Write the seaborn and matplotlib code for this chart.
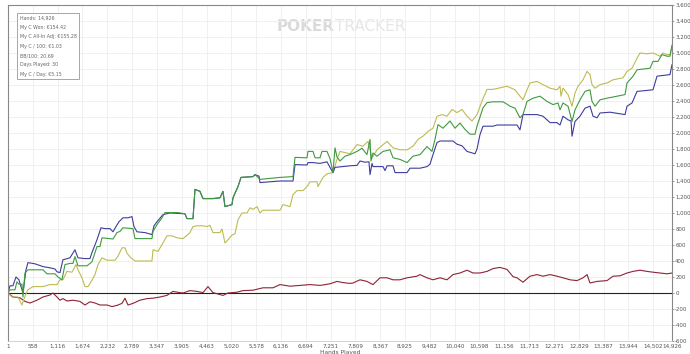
import pandas as pd
import matplotlib.pyplot as plt
import seaborn as sns

# ---- data (hands played vs. winnings) ----
blue_hands = [1, 45, 112, 180, 247, 315, 337, 405, 450, 607, 787, 944, 1057, 1102, 1169, 1236,
              1394, 1506, 1574, 1731, 1843, 1888, 2001, 2091, 2181, 2293, 2361, 2428, 2495, 2585,
              2698, 2788, 2832, 2900, 3080, 3237, 3282, 3350, 3484, 3642, 3821, 3979, 4024, 4159,
              4204, 4316, 4384, 4608, 4766, 4833, 4878, 5036, 5058, 5171, 5238, 5508, 5553, 5643,
              5665, 6115, 6407, 6452, 6722, 6744, 6857, 7014, 7171, 7239, 7306, 7351, 7688, 7846,
              7913, 8025, 8115, 8138, 8183, 8205, 8430, 8475, 8520, 8655, 8700, 8970, 9037, 9262,
              9419, 9486, 9554, 9644, 9711, 10003, 10093, 10206, 10318, 10498, 10543, 10610, 10678,
              10903, 10992, 11442, 11509, 11577, 11892, 12026, 12184, 12341, 12409, 12476, 12589,
              12656, 12679, 12746, 12858, 12971, 13083, 13151, 13241, 13308, 13533, 13870, 13915,
              14027, 14140, 14499, 14589, 14881, 14926]
blue_won = [0, 90, 90, 200, 165, 40, 0, 290, 380, 365, 330, 315, 300, 265, 255, 415,
            440, 540, 440, 430, 430, 505, 665, 815, 805, 805, 765, 830, 890, 940,
            940, 955, 830, 765, 755, 730, 840, 890, 980, 1000, 995, 990, 930, 930,
            1295, 1270, 1180, 1180, 1190, 1270, 1080, 1105, 1190, 1330, 1445, 1455, 1480, 1460,
            1380, 1400, 1400, 1605, 1600, 1630, 1630, 1620, 1640, 1570, 1505, 1570, 1590, 1595,
            1650, 1635, 1640, 1480, 1620, 1580, 1580, 1530, 1590, 1590, 1505, 1505, 1560, 1560,
            1580, 1610, 1730, 1880, 1900, 1900, 1860, 1840, 1770, 1740, 1800, 1980, 2085,
            2085, 2100, 2100, 2040, 2230, 2230, 2210, 2130, 2130, 2100, 2210, 2165,
            2150, 1960, 2145, 2210, 2310, 2335, 2210, 2190, 2250, 2260, 2230, 2335,
            2375, 2520, 2540, 2710, 2730, 2855]

green_hands = [1, 45, 157, 202, 247, 315, 337, 382, 450, 787, 877, 1057, 1124, 1214, 1281, 1394,
               1461, 1506, 1574, 1776, 1888, 2001, 2068, 2113, 2361, 2450, 2518, 2585, 2810, 2855,
               3237, 3260, 3350, 3462, 3529, 3821, 3979, 4024, 4159, 4204, 4316, 4384, 4608, 4766,
               4833, 4878, 5036, 5058, 5171, 5238, 5508, 5553, 5665, 6115, 6407, 6452, 6722, 6744,
               6857, 6902, 7014, 7059, 7171, 7239, 7306, 7351, 7396, 7463, 7576, 7688, 7846, 7958,
               8070, 8138, 8160, 8205, 8295, 8430, 8587, 8655, 8812, 8970, 9104, 9262, 9419, 9531,
               9599, 9666, 9779, 9936, 10048, 10161, 10273, 10386, 10498, 10543, 10678, 10768,
               10903, 11127, 11217, 11285, 11397, 11509, 11577, 11667, 11802, 11959, 12116, 12251,
               12364, 12409, 12476, 12589, 12679, 12746, 12858, 12971, 13083, 13128, 13196, 13308,
               13465, 13690, 13870, 13915, 14050, 14140, 14432, 14499, 14611, 14701, 14814,
               14881, 14926]
green_won = [0, 40, 40, 140, 110, 110, -50, 250, 290, 290, 240, 240, 200, 165, 355, 370,
             370, 455, 340, 340, 390, 580, 580, 690, 675, 755, 770, 815, 805, 680,
             680, 770, 855, 940, 1005, 1005, 990, 930, 930, 1295, 1270, 1180, 1180, 1190,
             1270, 1080, 1105, 1190, 1330, 1445, 1455, 1480, 1420, 1445, 1455, 1695, 1690, 1770,
             1770, 1690, 1690, 1770, 1770, 1680, 1505, 1815, 1700, 1650, 1710, 1730, 1770, 1810,
             1730, 1920, 1650, 1750, 1710, 1770, 1790, 1690, 1670, 1630, 1710, 1730, 1830, 1770,
             1920, 2105, 2060, 2150, 2060, 2125, 2045, 1985, 1985, 2085, 2315, 2380,
             2390, 2390, 2360, 2335, 2310, 2190, 2230, 2395, 2435, 2460, 2395, 2355,
             2375, 2290, 2375, 2335, 2145, 2290, 2415, 2520, 2540, 2395, 2335, 2415,
             2435, 2460, 2480, 2625, 2710, 2790, 2810, 2895, 2895, 2980, 2960,
             2960, 3100]

yellow_hands = [1, 90, 225, 315, 382, 450, 562, 787, 944, 1102, 1169, 1236, 1326, 1439, 1529,
                1574, 1664, 1731, 1799, 1888, 1956, 2023, 2113, 2226, 2405, 2473, 2563, 2630,
                2675, 2743, 2855, 3237, 3260, 3372, 3462, 3574, 3687, 3799, 3934, 4024, 4091,
                4159, 4249, 4384, 4474, 4541, 4608, 4766, 4811, 4878, 4946, 5036, 5103, 5171,
                5260, 5373, 5440, 5508, 5598, 5665, 5732, 6115, 6182, 6340, 6407, 6497, 6632,
                6722, 6789, 6947, 6969, 7081, 7171, 7306, 7396, 7463, 7688, 7846, 7980, 8093,
                8183, 8295, 8520, 8655, 8812, 8970, 9104, 9217, 9329, 9442, 9554, 9644, 9756,
                9869, 9981, 10093, 10206, 10318, 10431, 10543, 10655, 10768, 10903, 11060,
                11217, 11397, 11509, 11577, 11667, 11734, 11892, 12026, 12184, 12341, 12409,
                12431, 12476, 12589, 12679, 12746, 12814, 12926, 13016, 13083, 13128, 13196,
                13308, 13465, 13600, 13825, 13915, 14027, 14140, 14207, 14364, 14499, 14656,
                14724, 14814, 14881, 14926]
yellow_won = [0, -50, -50, -150, -40, 40, 80, 80, 105, 105, 165, 165, 270, 260, 355,
              290, 190, 80, 80, 160, 230, 355, 440, 410, 410, 460, 565, 565,
              500, 450, 400, 400, 540, 520, 605, 715, 715, 690, 680, 720, 755,
              830, 840, 840, 830, 845, 755, 755, 800, 625, 665, 725, 740, 915,
              1000, 1000, 1065, 1045, 1080, 1000, 1035, 1035, 1105, 1080, 1230, 1280, 1280,
              1330, 1390, 1390, 1330, 1445, 1490, 1505, 1670, 1770, 1740, 1855, 1835, 1895,
              1690, 1790, 1895, 1815, 1790, 1790, 1835, 1920, 1960, 2020, 2060, 2210, 2230,
              2210, 2295, 2255, 2295, 2210, 2150, 2230, 2400, 2545, 2545, 2565,
              2585, 2540, 2460, 2415, 2540, 2625, 2645, 2605, 2560, 2540, 2585,
              2460, 2560, 2480, 2335, 2500, 2585, 2665, 2770, 2730, 2605, 2560,
              2605, 2625, 2665, 2690, 2770, 2810, 2935, 3000, 2990, 3000, 2960,
              3000, 2980, 2980, 3080]

red_hands = [1, 112, 270, 382, 495, 652, 787, 944, 1012, 1102, 1169, 1236, 1326, 1461, 1619,
             1731, 1843, 1956, 2068, 2226, 2338, 2450, 2563, 2630, 2698, 2810, 2967, 3125, 3260,
             3417, 3574, 3709, 3866, 3934, 4091, 4249, 4384, 4496, 4608, 4833, 4946, 5148, 5283,
             5508, 5732, 5957, 6115, 6340, 6564, 6789, 7014, 7239, 7396, 7531, 7688, 7756, 7913,
             8070, 8205, 8363, 8520, 8655, 8812, 8970, 9194, 9262, 9419, 9554, 9711, 9869,
             10003, 10161, 10318, 10453, 10610, 10768, 10903, 11060, 11217, 11352, 11442, 11577,
             11734, 11892, 12026, 12184, 12341, 12476, 12634, 12791, 12926, 13016, 13083, 13241,
             13465, 13600, 13757, 13915, 14050, 14207, 14364, 14499, 14656, 14814, 14926]
red_won = [0, -50, -60, -105, -125, -90, -50, -25, 0, -50, -90, -70, -100, -90, -105,
           -150, -110, -125, -150, -150, -170, -155, -130, -65, -150, -130, -90, -70, -65,
           -50, -30, 20, 5, 0, 30, 20, 5, 80, 5, -30, 0, 10, 30,
           35, 65, 65, 105, 85, 95, 105, 95, 115, 145, 130, 120, 125, 165,
           145, 105, 190, 190, 165, 165, 190, 210, 230, 190, 165, 190, 165,
           230, 250, 285, 250, 250, 270, 305, 320, 295, 205, 190, 135,
           210, 230, 210, 230, 210, 190, 165, 155, 190, 230, 125, 145,
           155, 210, 215, 250, 270, 285, 270, 260, 250, 240, 250]

series_names = ["My C Won", "My C All-In Adj", "BB", "Red"]
series_colors = ["#3d3d9e", "#3f9a3f", "#bcbc52", "#8e2236"]

x_ticks = [1, 558, 1116, 1674, 2232, 2789, 3347, 3905, 4463, 5020, 5578, 6136, 6694, 7251,
           7809, 8367, 8925, 9482, 10040, 10598, 11156, 11713, 12271, 12829, 13387, 13944,
           14502, 14926]
y_ticks = list(range(-600, 3601, 200))

info_lines = ["Hands: 14,926", "My C Won: €154.42", "My C All-In Adj: €155.28",
              "My C / 100: €1.03", "BB/100: 20.69", "Days Played: 30", "My C / Day: €5.15"]

# ---- long table for seaborn ----
frames = []
for name, h, v in [("Red", red_hands, red_won), ("BB", yellow_hands, yellow_won),
                   ("My C Won", blue_hands, blue_won), ("My C All-In Adj", green_hands, green_won)]:
    frames.append(pd.DataFrame({"hands": h, "won": v, "series": name}))
df = pd.concat(frames, ignore_index=True)

sns.set_style("white")
plt.rcParams["font.family"] = ["Liberation Sans Narrow", "DejaVu Sans"]

fig = plt.figure(figsize=(6.9, 3.54), dpi=100)
ax = fig.add_axes([8 / 690, 1 - 341 / 354, 664 / 690, 336 / 354])

ax.set_xticks(x_ticks)
ax.set_yticks(y_ticks)
ax.grid(True, color="#eeeeee", linewidth=0.6)
ax.set_axisbelow(True)

sns.lineplot(data=df, x="hands", y="won", hue="series",
             hue_order=["Red", "BB", "My C Won", "My C All-In Adj"],
             palette=dict(zip(series_names, series_colors)),
             linewidth=0.8, legend=False, ax=ax, estimator=None, sort=False)

ax.axhline(0, color="#222222", linewidth=0.8, zorder=1)

ax.set_xlim(1, 14926)
ax.set_ylim(-600, 3600)
ax.set_xticklabels([f"{t:,}" for t in x_ticks], fontsize=4.1, color="#555555")
ax.set_yticklabels([f"{t:,}" for t in y_ticks], fontsize=3.9, color="#555555")
ax.yaxis.tick_right()
ax.tick_params(axis="both", length=1.5, width=0.5, color="#777777", pad=0.8)
ax.set_xlabel("Hands Played", fontsize=4.2, color="#555555", labelpad=0.5)
ax.set_ylabel("")
for side in ["left", "right", "top"]:
    ax.spines[side].set_color("#888888")
    ax.spines[side].set_linewidth(0.8)
ax.spines["bottom"].set_color("#cccccc")
ax.spines["bottom"].set_linewidth(0.6)

# stats box in the top-left corner
ax.text(0.0175, 0.969, "\n".join(info_lines), transform=ax.transAxes, fontsize=3.4,
        color="#666666", va="top", ha="left", linespacing=2.1,
        bbox=dict(boxstyle="square,pad=0.45", facecolor="white", edgecolor="#999999", linewidth=0.6))

# watermark
poker = ax.text(0.405, 0.936, "POKER", transform=ax.transAxes, fontsize=11, fontweight="bold",
                family="DejaVu Sans", color="#dadada", ha="left", va="center", zorder=0)
ax.annotate("TRACKER", xy=(1, 0.5), xycoords=poker, xytext=(0.3, 0), textcoords="offset points",
            fontsize=11, family="DejaVu Sans", color="#e6e6e6", ha="left", va="center", zorder=0)

fig.savefig("out.png", dpi=100)
